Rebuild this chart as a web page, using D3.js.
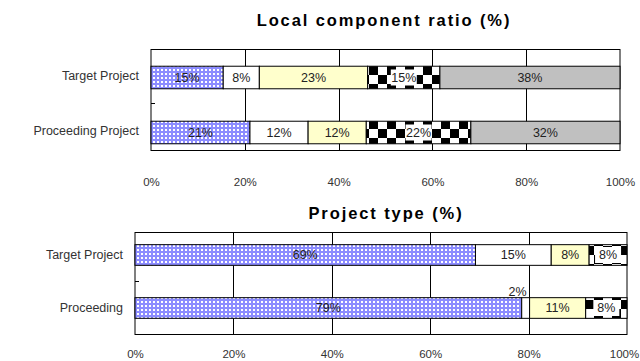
<!DOCTYPE html>
<html>
<head>
<meta charset="utf-8">
<script src="https://cdn.jsdelivr.net/npm/d3@7"></script>
<style>
  html, body { margin: 0; padding: 0; background: #fff; }
  svg { display: block; }
  text { font-family: "Liberation Sans", Arial, sans-serif; }
</style>
</head>
<body>
<svg id="chart" width="640" height="361"></svg>
<script>
// ---- data ----
const topTitle = "Local component ratio (%)";
const topCategories = ["Target Project", "Proceeding Project"];
const topSeries = ["s1", "s2", "s3", "s4", "s5"];
const topTarget = [15.4, 7.7, 23.1, 15.4, 38.4];
const topProceeding = [21.1, 12.4, 12.4, 22.3, 31.8];

const bottomTitle = "Project type (%)";
const bottomCategories = ["Target Project", "Proceeding"];
const bottomSeries = ["s1", "s2", "s3", "s4"];
const bottomTarget = [69.2, 15.4, 7.7, 7.7];
const bottomProceeding = [78.6, 1.6, 11.4, 8.4];

const tickValues = [0, 20, 40, 60, 80, 100];

// ---- drawing ----
const svg = d3.select("#chart");
const defs = svg.append("defs");

// dotted blue fill
const pDots = defs.append("pattern").attr("id", "dots")
  .attr("patternUnits", "userSpaceOnUse").attr("width", 4).attr("height", 4);
pDots.append("rect").attr("width", 4).attr("height", 4).attr("fill", "#8c8cff");
pDots.append("rect").attr("x", 1).attr("y", 1).attr("width", 2).attr("height", 2).attr("fill", "#ffffff");

// large checkerboard fill
const cs = 9;
const pCheck = defs.append("pattern").attr("id", "check")
  .attr("patternUnits", "userSpaceOnUse").attr("width", cs * 2).attr("height", cs * 2)
  .attr("y", 3);
pCheck.append("rect").attr("width", cs * 2).attr("height", cs * 2).attr("fill", "#ffffff");
pCheck.append("rect").attr("width", cs).attr("height", cs).attr("fill", "#000000");
pCheck.append("rect").attr("x", cs).attr("y", cs).attr("width", cs).attr("height", cs).attr("fill", "#000000");

const fills = {
  s1: "url(#dots)",
  s2: "#ffffff",
  s3: "#ffffcc",
  s4: "url(#check)",
  s5: "#c0c0c0"
};

function drawPanel(cfg) {
  const g = svg.append("g");
  const x = d3.scaleLinear().domain([0, 100]).range([cfg.x0, cfg.x1]);
  const y = d3.scaleBand().domain(cfg.categories).range([cfg.bandTop, cfg.bandBottom])
    .paddingInner(cfg.padIn).paddingOuter(cfg.padOut);

  // title
  g.append("text").attr("x", cfg.titleX).attr("y", cfg.titleY)
    .attr("text-anchor", "middle")
    .attr("font-weight", "bold").attr("font-size", 16.5)
    .attr("letter-spacing", "1.9px").attr("fill", "#000")
    .text(cfg.title);

  // frame and vertical gridlines
  g.append("rect").attr("x", cfg.x0).attr("y", cfg.frameTop)
    .attr("width", cfg.x1 - cfg.x0).attr("height", cfg.frameBottom - cfg.frameTop)
    .attr("fill", "#fff").attr("stroke", "#000").attr("stroke-width", 1);
  g.selectAll("line.grid").data(tickValues.slice(1, -1)).join("line")
    .attr("class", "grid")
    .attr("x1", d => Math.round(x(d)) + 0.5).attr("x2", d => Math.round(x(d)) + 0.5)
    .attr("y1", cfg.frameTop).attr("y2", cfg.frameBottom)
    .attr("stroke", "#000").attr("stroke-width", 1);

  // category divider tick on the left axis
  g.append("line").attr("x1", cfg.x0).attr("x2", cfg.x0 + 4)
    .attr("y1", cfg.midTick).attr("y2", cfg.midTick)
    .attr("stroke", "#000");

  // x axis tick labels
  const axis = d3.axisBottom(x).tickValues(tickValues).tickSize(0)
    .tickFormat(d => d + "%");
  const ax = g.append("g").attr("transform", `translate(0,${cfg.tickY})`).call(axis);
  ax.select(".domain").remove();
  ax.selectAll("text").attr("font-size", 11.5).attr("fill", "#333")
    .attr("font-family", "'Liberation Sans', Arial, sans-serif")
    .attr("dx", d => d === 100 ? cfg.lastShift : 0);

  // category labels
  g.selectAll("text.cat").data(cfg.categories).join("text")
    .attr("class", "cat")
    .attr("x", cfg.x0 - 12).attr("y", d => y(d) + y.bandwidth() / 2 + cfg.catShift)
    .attr("dy", "0.35em").attr("text-anchor", "end")
    .attr("font-size", 12.5).attr("fill", "#333").text(d => d);

  // stacked bars
  cfg.rows.forEach((vals, ri) => {
    const cat = cfg.categories[ri];
    let acc = 0;
    const segs = vals.map((v, i) => {
      const s = { key: cfg.series[i], v, start: acc, end: acc + v };
      acc += v;
      return s;
    });
    const row = g.append("g");
    row.selectAll("rect").data(segs).join("rect")
      .attr("x", d => x(d.start)).attr("y", y(cat))
      .attr("width", d => x(d.end) - x(d.start)).attr("height", y.bandwidth())
      .attr("fill", d => fills[d.key]).attr("stroke", "#000").attr("stroke-width", 1);

    segs.forEach(d => {
      const label = Math.round(d.v) + "%";
      const cx = (x(d.start) + x(d.end)) / 2;
      const cy = y(cat) + y.bandwidth() / 2;
      const narrow = x(d.end) - x(d.start) < 14;
      const tx = narrow ? cx - 8 : cx;
      const ty = narrow ? y(cat) - 6 : cy;
      if (d.key === "s4") {
        row.append("rect").attr("x", cx - 13).attr("y", cy - 8)
          .attr("width", 26).attr("height", 16).attr("fill", "#fff");
      }
      row.append("text").attr("x", tx).attr("y", ty).attr("dy", "0.35em")
        .attr("text-anchor", "middle").attr("font-size", 12.5).attr("fill", "#222")
        .text(label);
    });
  });
}

drawPanel({
  title: topTitle, titleX: 384, titleY: 26,
  categories: topCategories, series: topSeries,
  rows: [topTarget, topProceeding],
  x0: 151, x1: 620,
  frameTop: 49.5, frameBottom: 150.5, midTick: 103.5,
  bandTop: 50, bandBottom: 160, padIn: 0.59, padOut: 0.295,
  catShift: -2, tickY: 175, lastShift: 0
});

drawPanel({
  title: bottomTitle, titleX: 386, titleY: 219,
  categories: bottomCategories, series: bottomSeries,
  rows: [bottomTarget, bottomProceeding],
  x0: 135, x1: 627,
  frameTop: 232.5, frameBottom: 334.5, midTick: 281.5,
  bandTop: 228.5, bandBottom: 334.5, padIn: 0.61, padOut: 0.305,
  catShift: 0, tickY: 347, lastShift: -3
});
</script>
</body>
</html>
